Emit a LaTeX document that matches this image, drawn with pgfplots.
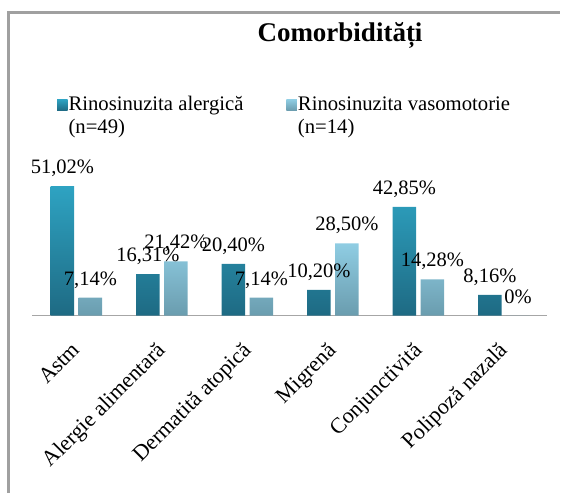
\documentclass[border=0pt]{standalone}
\usepackage{fontspec}
\setmainfont{Liberation Serif}
\usepackage{pgfplots}
\pgfplotsset{compat=1.18}
\usepackage{pgfplotstable}
\definecolor{darkTop}{HTML}{2EA3C2}
\definecolor{darkBot}{HTML}{1E6A83}
\definecolor{lightTop}{HTML}{8FCDE3}
\definecolor{lightBot}{HTML}{6A9CAE}
\definecolor{framegray}{HTML}{A0A0A0}
\definecolor{axisgray}{HTML}{A6A6A6}

\pgfplotstableread{
x y label
0 51.02 51,02
1 16.31 16,31
2 20.40 20,40
3 10.20 10,20
4 42.85 42,85
5 8.16 8,16
}\alergica
\pgfplotstableread{
x y label
0 7.14 7,14
1 21.42 21,42
2 7.14 7,14
3 28.50 28,50
4 14.28 14,28
5 0 0
}\vasomotorie

\begin{document}
\begin{tikzpicture}[x=1pt,y=1pt]
\path[use as bounding box] (0,0) rectangle (567,493);
\draw[framegray, line width=2.5pt, line cap=butt] (8.5,0) -- (8.5,480.5) -- (560,480.5);
\begin{axis}[
  at={(32pt,177.3pt)}, anchor=south west,
  scale only axis, width=514.7pt, height=152.5pt,
  xmin=-0.52, xmax=5.5, ymin=0, ymax=60,
  ybar=4.5pt, bar width=23.5pt,
  axis x line*=bottom, axis y line=none,
  x axis line style={axisgray, line width=1.5pt, -},
  xtick=data,
  xticklabels={Astm, Alergie alimentară, Dermatită atopică, Migrenă, Conjunctivită, Polipoză nazală},
  xtick style={draw=none},
  x tick label style={yshift=-16pt, xshift=-6pt, rotate=45, anchor=north east, font=\fontsize{22}{26}\selectfont},
  nodes near coords={\pgfplotspointmeta\%},
  point meta=explicit symbolic,
  every node near coord/.append style={anchor=base, yshift=12.5pt, font=\fontsize{20.5}{24}\selectfont, text=black},
  legend columns=2,
  legend style={draw=none, fill=none, at={(0.0486,1.447)}, anchor=north west,
    inner sep=0pt, outer sep=0pt, column sep=0pt,
    font=\fontsize{20.7}{23}\selectfont,
    nodes={inner sep=1pt, align=left},
    cells={anchor=west},
    /tikz/every even column/.append style={column sep=42pt}},
  legend image code/.code={\path[#1, draw=none] (0pt,5pt) rectangle (10.5pt,16pt);},
]
\addplot[draw=none, top color=darkTop, bottom color=darkBot] table[x=x, y=y, meta=label] {\alergica};
\addplot[draw=none, top color=lightTop, bottom color=lightBot] table[x=x, y=y, meta=label] {\vasomotorie};
\legend{{Rinosinuzita alergică\\(n=49)}, {Rinosinuzita vasomotorie\\(n=14)}}
\end{axis}
\node[font=\bfseries\fontsize{27}{30}\selectfont, anchor=base] at (340,451) {Comorbidități};
\end{tikzpicture}
\end{document}
